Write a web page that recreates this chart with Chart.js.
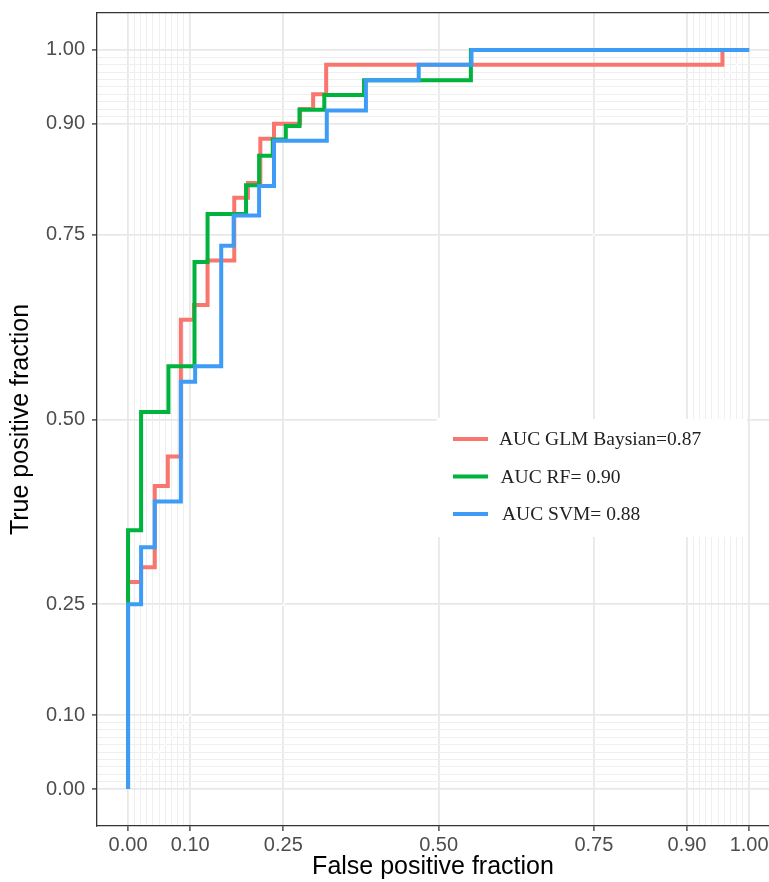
<!DOCTYPE html>
<html>
<head>
<meta charset="utf-8">
<script src="https://cdn.jsdelivr.net/npm/chart.js@4.4.0/dist/chart.umd.min.js"></script>
<style>
  html, body { margin: 0; padding: 0; background: #fff; overflow: hidden; }
</style>
</head>
<body>
<canvas id="roc" width="769" height="882"></canvas>
<script>
// axis breaks (plotROC style: majors + dense minors near 0 and 1)
const majorBreaks = [0, 0.1, 0.25, 0.5, 0.75, 0.9, 1];
const tickLabels = ['0.00', '0.10', '0.25', '0.50', '0.75', '0.90', '1.00'];
const minorBreaks = [0.01, 0.02, 0.03, 0.04, 0.05, 0.06, 0.07, 0.08, 0.09,
                     0.91, 0.92, 0.93, 0.94, 0.95, 0.96, 0.97, 0.98, 0.99];

const seriesNames = ['AUC GLM Baysian=0.87', 'AUC RF= 0.90', 'AUC SVM= 0.88'];
const seriesColors = ['#F8766D', '#00B33C', '#3F9CF6'];

// ROC corner points (false positive fraction, true positive fraction)
const glmFpr = [0, 0, 0.021, 0.043, 0.064, 0.085, 0.106, 0.128, 0.171, 0.193, 0.213, 0.235, 0.277, 0.298, 0.319, 0.957, 1];
const glmTpr = [0, 0.28, 0.30, 0.41, 0.45, 0.635, 0.655, 0.715, 0.80, 0.82, 0.88, 0.90, 0.92, 0.94, 0.98, 1.0, 1.0];

const rfFpr = [0, 0, 0.021, 0.065, 0.107, 0.128, 0.190, 0.211, 0.233, 0.254, 0.276, 0.316, 0.380, 0.552, 1];
const rfTpr = [0, 0.35, 0.51, 0.572, 0.713, 0.778, 0.817, 0.857, 0.879, 0.897, 0.919, 0.939, 0.959, 1.0, 1.0];

const svmFpr = [0, 0, 0.021, 0.043, 0.085, 0.108, 0.150, 0.170, 0.211, 0.235, 0.320, 0.383, 0.468, 0.553, 1];
const svmTpr = [0, 0.25, 0.327, 0.389, 0.551, 0.572, 0.735, 0.776, 0.816, 0.877, 0.918, 0.959, 0.98, 1.0, 1.0];

const isMajor = v => majorBreaks.some(b => Math.abs(b - v) < 1e-9);
const toPoints = (xs, ys) => xs.map((x, i) => ({x: x, y: ys[i]}));

function setBreaks(scale) {
    scale.ticks = majorBreaks.concat(minorBreaks).sort((a, b) => a - b).map(v => ({value: v}));
}

const gridOpts = {
    color: (ctx) => (ctx.tick && isMajor(ctx.tick.value)) ? '#e8e8e8' : '#efefef',
    lineWidth: (ctx) => (ctx.tick && isMajor(ctx.tick.value)) ? 1.8 : 1,
    tickColor: (ctx) => (ctx.tick && isMajor(ctx.tick.value)) ? '#333333' : 'rgba(0,0,0,0)',
    tickWidth: 1.3,
    tickLength: 5,
};

const tickOpts = {
    autoSkip: false,
    maxRotation: 0,
    color: '#4d4d4d',
    font: {family: 'Liberation Sans', size: 20},
    callback: (value) => {
        const idx = majorBreaks.findIndex(b => Math.abs(b - value) < 1e-9);
        return idx >= 0 ? tickLabels[idx] : '';
    },
};

// legend drawn inside the panel, like the ggplot one
const insideLegend = {
    id: 'insideLegend',
    afterDatasetsDraw(chart) {
        const ctx = chart.ctx;
        const ds = chart.data.datasets.filter(d => d.legend);
        ctx.save();
        ctx.fillStyle = '#ffffff';
        ctx.fillRect(437, 419, 310, 118);
        ds.forEach((d, i) => {
            const y = 439 + i * 37.5;
            ctx.strokeStyle = d.borderColor;
            ctx.lineWidth = 4;
            ctx.beginPath();
            ctx.moveTo(453, y);
            ctx.lineTo(488, y);
            ctx.stroke();
            ctx.fillStyle = '#222222';
            ctx.font = '19.5px "Liberation Serif"';
            ctx.textBaseline = 'middle';
            ctx.fillText(d.label, 499 + i * 1.5, y + 1);
        });
        ctx.restore();
    }
};

new Chart(document.getElementById('roc').getContext('2d'), {
    type: 'line',
    data: {
        datasets: [
            {
                label: 'diagonal',
                data: [{x: 0, y: 0}, {x: 1, y: 1}],
                borderColor: '#ffffff',
                borderWidth: 1.3,
                pointRadius: 0,
                order: 10,
            },
            {
                label: seriesNames[0],
                legend: true,
                data: toPoints(glmFpr, glmTpr),
                borderColor: seriesColors[0],
                borderWidth: 4,
                stepped: 'before',
                pointRadius: 0,
                order: 3,
            },
            {
                label: seriesNames[1],
                legend: true,
                data: toPoints(rfFpr, rfTpr),
                borderColor: seriesColors[1],
                borderWidth: 4,
                stepped: 'before',
                pointRadius: 0,
                order: 2,
            },
            {
                label: seriesNames[2],
                legend: true,
                data: toPoints(svmFpr, svmTpr),
                borderColor: seriesColors[2],
                borderWidth: 4,
                stepped: 'before',
                pointRadius: 0,
                order: 1,
            },
        ]
    },
    options: {
        responsive: false,
        animation: false,
        devicePixelRatio: 1,
        layout: {padding: 0},
        plugins: {
            legend: {display: false},
            tooltip: {enabled: false},
        },
        scales: {
            x: {
                type: 'linear',
                position: 'bottom',
                min: -0.05,
                max: 1.032,
                afterBuildTicks: setBreaks,
                afterFit: (s) => { s.height = 56; s.paddingLeft = 0; s.paddingRight = 0; },
                grid: gridOpts,
                border: {display: true, color: '#333333', width: 1.3},
                ticks: Object.assign({padding: 2}, tickOpts),
                title: {
                    display: true,
                    text: 'False positive fraction',
                    color: '#000000',
                    font: {family: 'Liberation Sans', size: 25},
                    padding: {top: 0, bottom: 0},
                },
            },
            xTop: {
                type: 'linear',
                position: 'top',
                min: -0.05,
                max: 1.032,
                afterFit: (s) => { s.height = 13; },
                grid: {display: false},
                ticks: {display: false},
                border: {display: true, color: '#333333', width: 1.3},
            },
            y: {
                type: 'linear',
                position: 'left',
                min: -0.05,
                max: 1.05,
                afterBuildTicks: setBreaks,
                afterFit: (s) => { s.width = 97; s.paddingTop = 0; s.paddingBottom = 0; },
                grid: gridOpts,
                border: {display: true, color: '#333333', width: 1.3},
                ticks: Object.assign({padding: 7}, tickOpts),
                title: {
                    display: true,
                    text: 'True positive fraction',
                    color: '#000000',
                    font: {family: 'Liberation Sans', size: 25},
                    padding: {top: 6, bottom: 0},
                },
            },
        },
    },
    plugins: [insideLegend],
});
</script>
</body>
</html>
